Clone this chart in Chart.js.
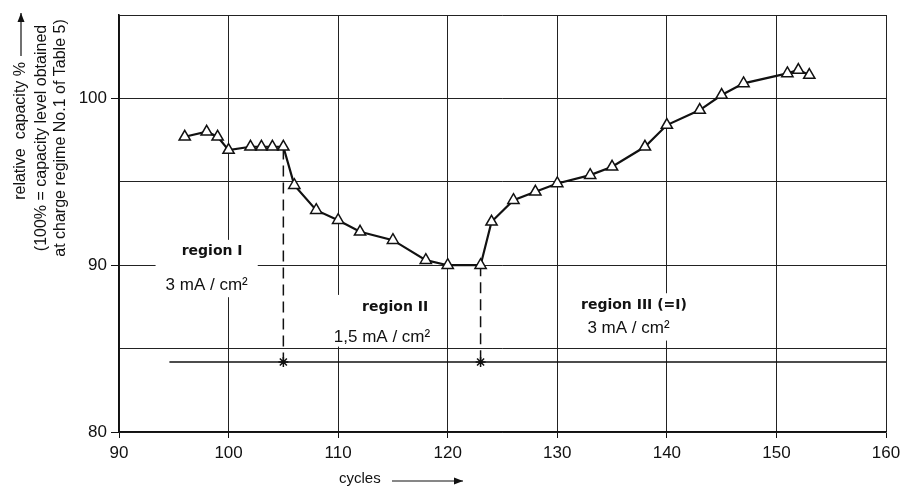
<!DOCTYPE html>
<html>
<head>
<meta charset="utf-8">
<script src="https://cdn.jsdelivr.net/npm/chart.js@4.4.1/dist/chart.umd.min.js"></script>
<style>
html, body { margin: 0; padding: 0; background: #fff; }
</style>
</head>
<body>
<canvas id="graphik1" width="901" height="488"></canvas>
<script>
// values
const cycles = [96, 98, 99, 100, 102, 103, 104, 105, 106, 108, 110, 112, 115, 118, 120, 123, 124, 126, 128, 130, 133, 135, 138, 140, 143, 145, 147, 151, 152, 153];
const capacity = [97.7, 98.0, 97.7, 96.9, 97.1, 97.1, 97.1, 97.1, 94.8, 93.3, 92.7, 92.0, 91.5, 90.3, 90.0, 90.0, 92.6, 93.9, 94.4, 94.9, 95.4, 95.9, 97.1, 98.4, 99.3, 100.2, 100.9, 101.5, 101.7, 101.4];
const switchCycles = [105, 123];       // change of charge current
const switchLevels = [97.0, 90.0];
const regimeLine = 84.2;               // level of the line with the stars
const regimeLineStart = 94.6;
const regionTitles = ['region I', 'region II', 'region III (=I)'];
const regionCurrents = ['3 mA / cm²', '1,5 mA / cm²', '3 mA / cm²'];
const yTitle = ['relative  capacity %', '(100% = capacity level obtained', 'at charge regime No.1 of Table 5)'];
const xTitle = 'cycles';

const regionTitlePos = [[98.5, 90.8], [115.2, 87.5], [137.0, 87.6]];
const regionCurrentPos = [[98.0, 88.8], [114.0, 85.7], [136.5, 86.2]];

const points = cycles.map((c, i) => ({ x: c, y: capacity[i] }));

function arrow(ctx, x1, y1, x2, y2) {
    const a = Math.atan2(y2 - y1, x2 - x1);
    ctx.beginPath();
    ctx.moveTo(x1, y1);
    ctx.lineTo(x2, y2);
    ctx.stroke();
    ctx.beginPath();
    ctx.moveTo(x2, y2);
    ctx.lineTo(x2 - 9 * Math.cos(a) + 3.5 * Math.sin(a), y2 - 9 * Math.sin(a) - 3.5 * Math.cos(a));
    ctx.lineTo(x2 - 9 * Math.cos(a) - 3.5 * Math.sin(a), y2 - 9 * Math.sin(a) + 3.5 * Math.cos(a));
    ctx.closePath();
    ctx.fill();
}

const labelsPlugin = {
    id: 'labels',
    beforeDatasetsDraw(chart) {
        const ctx = chart.ctx;
        const xs = chart.scales.x, ys = chart.scales.y;
        const titleFont = 'bold 14px "DejaVu Sans", sans-serif';
        const curFont = '17px "Liberation Sans", sans-serif';
        ctx.save();
        ctx.textBaseline = 'middle';
        ctx.textAlign = 'center';
        for (let i = 0; i < regionTitles.length; i++) {
            const tx = xs.getPixelForValue(regionTitlePos[i][0]);
            const ty = ys.getPixelForValue(regionTitlePos[i][1]);
            const cx = xs.getPixelForValue(regionCurrentPos[i][0]);
            const cy = ys.getPixelForValue(regionCurrentPos[i][1]);
            ctx.font = titleFont;
            const tw = ctx.measureText(regionTitles[i]).width;
            ctx.font = curFont;
            const cw = ctx.measureText(regionCurrents[i]).width;
            const left = Math.min(tx - tw / 2, cx - cw / 2) - 10;
            const right = Math.max(tx + tw / 2, cx + cw / 2) + 10;
            const top = ty - 12;
            const bottom = Math.min(cy + 12, ys.getPixelForValue(85) - 2);
            ctx.fillStyle = '#fff';
            ctx.fillRect(left, top, right - left, bottom - top);
            ctx.fillStyle = '#111';
            ctx.font = titleFont;
            ctx.fillText(regionTitles[i], tx, ty);
            ctx.font = curFont;
            ctx.fillText(regionCurrents[i], cx, cy);
        }
        ctx.restore();
    },
    afterDraw(chart) {
        const ctx = chart.ctx;
        ctx.save();
        ctx.fillStyle = '#111';
        ctx.strokeStyle = '#111';
        ctx.lineWidth = 1.2;
        ctx.font = '16px "Liberation Sans", sans-serif';
        ctx.textBaseline = 'middle';
        // y title, three rotated lines
        ctx.save();
        ctx.translate(21, 62);
        ctx.rotate(-Math.PI / 2);
        ctx.textAlign = 'right';
        ctx.fillText(yTitle[0], 0, 0);
        ctx.restore();
        arrow(ctx, 21, 56, 21, 13);
        [[42, 138], [61, 138]].forEach((p, i) => {
            ctx.save();
            ctx.translate(p[0], p[1]);
            ctx.rotate(-Math.PI / 2);
            ctx.textAlign = 'center';
            ctx.fillText(yTitle[i + 1], 0, 0);
            ctx.restore();
        });
        // x title
        ctx.font = '15px "Liberation Sans", sans-serif';
        ctx.textAlign = 'left';
        ctx.fillText(xTitle, 339, 479);
        arrow(ctx, 392, 481, 463, 481);
        ctx.restore();
    }
};

var ctx = document.getElementById('graphik1');
var graphik1 = new Chart(ctx, {
    type: 'scatter',
    data: {
        datasets: [{
            data: points,
            showLine: true,
            borderColor: '#111',
            borderWidth: 2.2,
            pointStyle: 'triangle',
            pointRadius: 6.5,
            pointBackgroundColor: '#fff',
            pointBorderColor: '#111',
            pointBorderWidth: 1.5
        }, {
            data: [{ x: switchCycles[0], y: switchLevels[0] }, { x: switchCycles[0], y: regimeLine }],
            showLine: true,
            borderColor: '#111',
            borderWidth: 1.5,
            borderDash: [11, 6],
            pointRadius: 0
        }, {
            data: [{ x: switchCycles[1], y: switchLevels[1] }, { x: switchCycles[1], y: regimeLine }],
            showLine: true,
            borderColor: '#111',
            borderWidth: 1.5,
            borderDash: [11, 6],
            pointRadius: 0
        }, {
            data: [{ x: switchCycles[0], y: regimeLine }, { x: switchCycles[1], y: regimeLine }],
            showLine: false,
            pointStyle: 'star',
            pointRadius: 5,
            pointBorderColor: '#111',
            pointBorderWidth: 1.5
        }, {
            data: [{ x: regimeLineStart, y: regimeLine }, { x: 160, y: regimeLine }],
            showLine: true,
            borderColor: '#111',
            borderWidth: 1.4,
            pointRadius: 0
        }]
    },
    options: {
        responsive: false,
        animation: false,
        layout: { padding: { top: 15, right: 15, left: 0, bottom: 0 } },
        plugins: { legend: { display: false }, tooltip: { enabled: false } },
        scales: {
            x: {
                type: 'linear',
                min: 90,
                max: 160,
                afterFit: s => { s.height = 56; s.paddingLeft = 0; s.paddingRight = 0; },
                ticks: {
                    stepSize: 10,
                    color: '#111',
                    font: { family: 'Liberation Sans', size: 17 },
                    padding: 5,
                    maxRotation: 0
                },
                grid: { color: '#222', lineWidth: 1, tickLength: 6, tickColor: '#111' },
                border: { color: '#111', width: 1.6 }
            },
            y: {
                min: 80,
                max: 105,
                afterFit: s => { s.width = 119; s.paddingTop = 0; s.paddingBottom = 0; },
                ticks: {
                    stepSize: 5,
                    color: '#111',
                    font: { family: 'Liberation Sans', size: 17 },
                    padding: 4,
                    callback: v => (v % 10 === 0 && v < 105 ? v : '')
                },
                grid: {
                    color: '#222',
                    lineWidth: 1,
                    tickLength: 8,
                    tickColor: c => (c.tick && c.tick.value % 10 === 0 && c.tick.value < 105 ? '#111' : 'rgba(0,0,0,0)')
                },
                border: { color: '#111', width: 1.6 }
            }
        }
    },
    plugins: [labelsPlugin]
});
</script>
</body>
</html>
